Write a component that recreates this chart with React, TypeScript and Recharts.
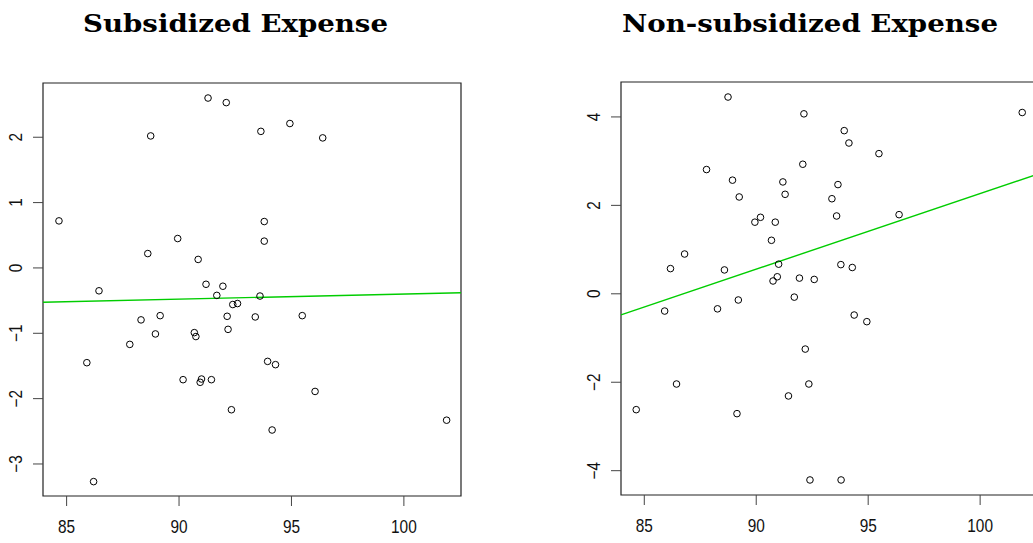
import React from 'react';
import { ScatterChart, Scatter, XAxis, YAxis, ReferenceLine, ReferenceArea } from 'recharts';

// ---- Data ----
const subX = [84.66, 91.29, 92.10, 88.74, 93.64, 89.94, 88.61, 90.85, 86.44, 91.20, 91.95, 91.68, 93.60, 94.93, 96.39, 93.79, 93.79, 92.39, 92.60, 92.14, 93.39, 92.18, 88.31, 89.16, 88.95, 90.68, 90.75, 87.81, 85.90, 90.18, 91.00, 90.94, 91.44, 92.33, 86.20, 95.48, 93.94, 94.29, 96.05, 94.14, 101.90];
const subY = [0.72, 2.60, 2.53, 2.02, 2.09, 0.45, 0.22, 0.13, -0.35, -0.25, -0.28, -0.42, -0.43, 2.21, 1.99, 0.71, 0.41, -0.56, -0.545, -0.74, -0.75, -0.94, -0.795, -0.73, -1.01, -0.99, -1.05, -1.17, -1.45, -1.71, -1.70, -1.75, -1.71, -2.17, -3.27, -0.73, -1.43, -1.48, -1.89, -2.48, -2.33];

const nonSubX = [88.74, 92.13, 87.78, 88.94, 92.08, 91.19, 91.29, 89.24, 90.19, 89.94, 90.85, 90.68, 86.80, 86.17, 88.58, 91.00, 90.94, 90.75, 91.93, 91.70, 89.20, 93.93, 94.14, 95.48, 93.65, 93.38, 93.59, 96.38, 101.88, 93.78, 94.29, 92.59, 85.91, 88.27, 92.19, 86.44, 92.35, 91.44, 84.64, 89.14, 92.40, 93.79, 94.375, 94.94];
const nonSubY = [4.45, 4.07, 2.81, 2.57, 2.93, 2.53, 2.25, 2.19, 1.73, 1.62, 1.62, 1.21, 0.90, 0.57, 0.54, 0.67, 0.385, 0.29, 0.355, -0.075, -0.14, 3.69, 3.41, 3.17, 2.47, 2.15, 1.76, 1.79, 4.10, 0.66, 0.595, 0.325, -0.39, -0.34, -1.25, -2.04, -2.04, -2.31, -2.62, -2.71, -4.21, -4.21, -0.48, -0.63];

// fitted lines (endpoints at the x-range edges)
const subFitX = [83.95, 102.54];
const subFitY = [-0.525, -0.38];
const nonSubFitX = [83.96, 102.54];
const nonSubFitY = [-0.475, 2.70];

const xTicks = [85, 90, 95, 100];
const subYTicks = [-3, -2, -1, 0, 1, 2];
const nonSubYTicks = [-4, -2, 0, 2, 4];

const subXDomain = [83.95, 102.54];
const subYDomain = [-3.49, 2.83];
const nonSubXDomain = [83.96, 102.54];
const nonSubYDomain = [-4.55, 4.79];

const titles = ['Subsidized Expense', 'Non-subsidized Expense'];

// ---- helpers ----
const fmt = (v: number) => (v < 0 ? '\u2212' + Math.abs(v) : String(v));
const zip = (xs: number[], ys: number[]) => xs.map((x, i) => ({ x, y: ys[i] }));

const FONT = '"Liberation Sans", Arial, Helvetica, sans-serif';
const TICK_FS = 17.5;
const SQUEEZE = 0.88;

const OpenCircle = (props: any) => (
  <circle cx={props.cx} cy={props.cy} r={3.3} fill="none" stroke="#000" strokeWidth={1} />
);

const YTick = (props: any) => {
  const { x, y, payload } = props;
  const cx = x - 17;
  return (
    <g transform={`translate(${cx} ${y}) rotate(-90) scale(${SQUEEZE} 1)`}>
      <text
        x={0}
        y={0}
        textAnchor="middle"
        dominantBaseline="central"
        fontFamily={FONT}
        fontSize={TICK_FS}
        fill="#111"
      >
        {fmt(payload.value)}
      </text>
    </g>
  );
};

const XTick = (props: any) => {
  const { x, y, payload } = props;
  return (
    <g transform={`translate(${x} ${y + 27.3}) scale(${SQUEEZE} 1)`}>
      <text x={0} y={0} textAnchor="middle" fontFamily={FONT} fontSize={TICK_FS} fill="#111">
        {fmt(payload.value)}
      </text>
    </g>
  );
};

type PanelProps = {
  xs: number[];
  ys: number[];
  fitX: number[];
  fitY: number[];
  xDomain: number[];
  yDomain: number[];
  yTicks: number[];
  width: number;
  margin: any;
  yAxisWidth: number;
  xAxisHeight: number;
};

const Panel = (p: PanelProps) => {
  const data = zip(p.xs, p.ys);
  return (
    <ScatterChart width={p.width} height={543} margin={p.margin}>
      <XAxis
        type="number"
        dataKey="x"
        domain={p.xDomain}
        ticks={xTicks}
        allowDataOverflow
        axisLine={false}
        tickLine={{ stroke: '#444', strokeWidth: 1 }}
        tickSize={10}
        tickMargin={0}
        height={p.xAxisHeight}
        tick={<XTick />}
        interval={0}
      />
      <YAxis
        type="number"
        dataKey="y"
        domain={p.yDomain}
        ticks={p.yTicks}
        allowDataOverflow
        axisLine={false}
        tickLine={{ stroke: '#444', strokeWidth: 1 }}
        tickSize={10}
        tickMargin={0}
        width={p.yAxisWidth}
        tick={<YTick />}
        interval={0}
      />
      <ReferenceArea
        x1={p.xDomain[0]}
        x2={p.xDomain[1]}
        y1={p.yDomain[0]}
        y2={p.yDomain[1]}
        fill="none"
        fillOpacity={0}
        stroke="#222"
        strokeWidth={1.2}
        ifOverflow="visible"
      />
      <ReferenceLine
        segment={[
          { x: p.fitX[0], y: p.fitY[0] },
          { x: p.fitX[1], y: p.fitY[1] },
        ]}
        stroke="#00cd00"
        strokeWidth={1.4}
        ifOverflow="visible"
      />
      <Scatter data={data} shape={<OpenCircle />} isAnimationActive={false} />
    </ScatterChart>
  );
};

export default function App() {
  return (
    <div
      style={{
        position: 'absolute',
        left: 0,
        top: 0,
        width: 1033,
        height: 543,
        overflow: 'hidden',
        background: '#fff',
      }}
    >
      <div style={{ position: 'absolute', left: 0, top: 0 }}>
        <Panel
          xs={subX}
          ys={subY}
          fitX={subFitX}
          fitY={subFitY}
          xDomain={subXDomain}
          yDomain={subYDomain}
          yTicks={subYTicks}
          width={480}
          margin={{ top: 83, right: 19, bottom: 0, left: 0 }}
          yAxisWidth={43}
          xAxisHeight={47}
        />
      </div>
      <div style={{ position: 'absolute', left: 561, top: 0 }}>
        <Panel
          xs={nonSubX}
          ys={nonSubY}
          fitX={nonSubFitX}
          fitY={nonSubFitY}
          xDomain={nonSubXDomain}
          yDomain={nonSubYDomain}
          yTicks={nonSubYTicks}
          width={480}
          margin={{ top: 82, right: 4, bottom: 0, left: 0 }}
          yAxisWidth={60}
          xAxisHeight={48}
        />
      </div>
      <svg
        width={1033}
        height={60}
        style={{ position: 'absolute', left: 0, top: 0, pointerEvents: 'none' }}
      >
        <text
          x={235.5}
          y={32}
          textAnchor="middle"
          fontFamily='"DejaVu Serif", "Liberation Serif", serif'
          fontWeight="bold"
          fontSize={24}
          textLength={305}
          lengthAdjust="spacingAndGlyphs"
          fill="#000"
        >
          {titles[0]}
        </text>
        <text
          x={810}
          y={32}
          textAnchor="middle"
          fontFamily='"DejaVu Serif", "Liberation Serif", serif'
          fontWeight="bold"
          fontSize={24}
          textLength={376}
          lengthAdjust="spacingAndGlyphs"
          fill="#000"
        >
          {titles[1]}
        </text>
      </svg>
    </div>
  );
}
